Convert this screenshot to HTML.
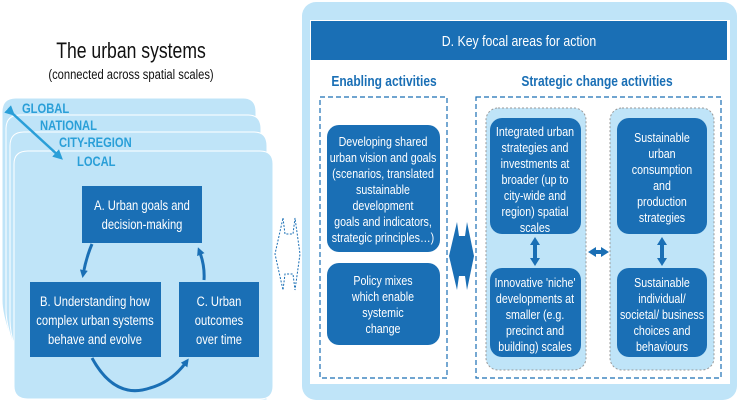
<!DOCTYPE html>
<html><head><meta charset="utf-8"><style>
html,body{margin:0;padding:0;background:#fff;width:738px;height:402px;overflow:hidden}
svg text{font-family:"Liberation Sans",sans-serif}
</style></head><body>
<svg width="738" height="402" viewBox="0 0 738 402" xmlns="http://www.w3.org/2000/svg">
<defs>
<marker id="ah" markerWidth="8" markerHeight="8" refX="5" refY="4" orient="auto" markerUnits="userSpaceOnUse"><path d="M0,0 L8,4 L0,8 Z" fill="#1a6fb5"/></marker>
<marker id="ah2" markerWidth="10" markerHeight="10" refX="6" refY="5" orient="auto" markerUnits="userSpaceOnUse"><path d="M0,0 L10,5 L0,10 Z" fill="#2a9fd8"/></marker>
</defs>
<!-- title -->
<g transform="translate(131 0) scale(0.8 1) translate(-131 0)" text-anchor="middle" fill="#111">
<text x="131" y="58" font-size="22">The urban systems</text>
<text x="131" y="79" font-size="14">(connected across spatial scales)</text>
</g>
<!-- stacked cards -->
<path d="M2,112 Q2,98 16,98 L243,98 Q256,98 256,112 L256,400 L40,400 Q2,330 2,300 Z" fill="#bfe4f8" stroke="#fff" stroke-width="1"/>
<path d="M6,129 Q6,115 20,115 L248,115 Q261,115 261,129 L261,400 L40,400 Q6,340 6,310 Z" fill="#bfe4f8" stroke="#fff" stroke-width="1"/>
<path d="M10,146 Q10,132 24,132 L254,132 Q267,132 267,146 L267,400 L40,400 Q10,350 10,320 Z" fill="#bfe4f8" stroke="#fff" stroke-width="1"/>
<path d="M14,164 Q14,151 28,151 L260,151 Q273,151 273,164 L273,386 Q273,399 260,399 L28,399 Q14,399 14,386 Z" fill="#bfe4f8" stroke="#fff" stroke-width="1"/>
<g font-size="14" font-weight="bold" fill="#2a9fd8">
<text x="22" y="113" transform="translate(22 0) scale(0.8 1) translate(-22 0)">GLOBAL</text>
<text x="40" y="130" transform="translate(40 0) scale(0.8 1) translate(-40 0)">NATIONAL</text>
<text x="59" y="147" transform="translate(59 0) scale(0.8 1) translate(-59 0)">CITY-REGION</text>
<text x="77" y="166" transform="translate(77 0) scale(0.8 1) translate(-77 0)">LOCAL</text>
</g>
<line x1="12" y1="113" x2="60" y2="157" stroke="#2a9fd8" stroke-width="2.5" marker-start="url(#ah2)" marker-end="url(#ah2)"/>
<!-- A B C -->
<rect x="82" y="186" width="120" height="57" fill="#1a6fb5"/>
<g font-size="14" fill="#fff" text-anchor="middle" transform="translate(142 0) scale(0.8 1) translate(-142 0)">
<text x="142" y="210">A. Urban goals and</text>
<text x="142" y="229">decision-making</text>
</g>
<rect x="30" y="282" width="131" height="75" fill="#1a6fb5"/>
<g font-size="14" fill="#fff" text-anchor="middle" transform="translate(95 0) scale(0.8 1) translate(-95 0)">
<text x="95" y="306">B. Understanding how</text>
<text x="95" y="325">complex urban systems</text>
<text x="95" y="344">behave and evolve</text>
</g>
<rect x="179" y="282" width="80" height="75" fill="#1a6fb5"/>
<g font-size="14" fill="#fff" text-anchor="middle" transform="translate(219 0) scale(0.8 1) translate(-219 0)">
<text x="219" y="306">C. Urban</text>
<text x="219" y="325">outcomes</text>
<text x="219" y="344">over time</text>
</g>
<path d="M92,244 Q86,258 83,275" fill="none" stroke="#1a6fb5" stroke-width="3" marker-end="url(#ah)"/>
<path d="M204,280 Q205,265 199,250" fill="none" stroke="#1a6fb5" stroke-width="3" marker-end="url(#ah)"/>
<path d="M92,358 Q115,400 150,388 Q172,382 187,361" fill="none" stroke="#1a6fb5" stroke-width="3" marker-end="url(#ah)"/>
<!-- hollow arrow -->
<polygon points="283,218 285,234 293,234 295,218 300,254 295,290 293,274 285,274 283,290 275,254" fill="#fff" stroke="#1a6fb5" stroke-width="1" stroke-dasharray="2,1.5"/>
<!-- right panel -->
<rect x="302" y="2" width="435" height="398" rx="14" fill="#bfe4f8"/>
<rect x="310" y="20" width="420" height="364" fill="#fff"/>
<rect x="311" y="21" width="416" height="39" fill="#1a6fb5"/>
<text x="519" y="46" font-size="15" fill="#fff" text-anchor="middle" transform="translate(519 0) scale(0.82 1) translate(-519 0)">D. Key focal areas for action</text>
<text x="384" y="86" font-size="15" font-weight="bold" fill="#1a6fb5" text-anchor="middle" transform="translate(384 0) scale(0.8 1) translate(-384 0)">Enabling activities</text>
<text x="597" y="86" font-size="15" font-weight="bold" fill="#1a6fb5" text-anchor="middle" transform="translate(597 0) scale(0.8 1) translate(-597 0)">Strategic change activities</text>
<rect x="320" y="97" width="127" height="281" fill="none" stroke="#1a6fb5" stroke-width="1.2" stroke-dasharray="5,3"/>
<rect x="476" y="97" width="245" height="281" fill="none" stroke="#1a6fb5" stroke-width="1.2" stroke-dasharray="5,3"/>
<rect x="486" y="108" width="100" height="262" rx="12" fill="#bfe4f8" stroke="#999" stroke-width="1" stroke-dasharray="2,2"/>
<rect x="610" y="108" width="104" height="262" rx="12" fill="#bfe4f8" stroke="#999" stroke-width="1" stroke-dasharray="2,2"/>
<rect x="327" y="125" width="113" height="127" rx="12" fill="#1a6fb5"/>
<g font-size="13" fill="#fff" text-anchor="middle" transform="translate(383 0) scale(0.82 1) translate(-383 0)">
<text x="383" y="146">Developing shared</text>
<text x="383" y="162">urban vision and goals</text>
<text x="383" y="178">(scenarios, translated</text>
<text x="383" y="194">sustainable</text>
<text x="383" y="210">development</text>
<text x="383" y="226">goals and indicators,</text>
<text x="383" y="242">strategic principles…)</text>
</g>
<rect x="327" y="263" width="113" height="82" rx="12" fill="#1a6fb5"/>
<g font-size="13" fill="#fff" text-anchor="middle" transform="translate(383 0) scale(0.82 1) translate(-383 0)">
<text x="383" y="285">Policy mixes</text>
<text x="383" y="301">which enable</text>
<text x="383" y="317">systemic</text>
<text x="383" y="333">change</text>
</g>
<rect x="490" y="118" width="91" height="116" rx="12" fill="#1a6fb5"/>
<g font-size="13" fill="#fff" text-anchor="middle" transform="translate(535 0) scale(0.82 1) translate(-535 0)">
<text x="535" y="136">Integrated urban</text>
<text x="535" y="152">strategies and</text>
<text x="535" y="168">investments at</text>
<text x="535" y="184">broader (up to</text>
<text x="535" y="200">city-wide and</text>
<text x="535" y="216">region) spatial</text>
<text x="535" y="232">scales</text>
</g>
<rect x="490" y="268" width="91" height="89" rx="12" fill="#1a6fb5"/>
<g font-size="13" fill="#fff" text-anchor="middle" transform="translate(535 0) scale(0.82 1) translate(-535 0)">
<text x="535" y="287">Innovative 'niche'</text>
<text x="535" y="303">developments at</text>
<text x="535" y="319">smaller (e.g.</text>
<text x="535" y="335">precinct and</text>
<text x="535" y="351">building) scales</text>
</g>
<rect x="617" y="118" width="90" height="116" rx="12" fill="#1a6fb5"/>
<g font-size="13" fill="#fff" text-anchor="middle" transform="translate(662 0) scale(0.82 1) translate(-662 0)">
<text x="662" y="142">Sustainable</text>
<text x="662" y="158">urban</text>
<text x="662" y="174">consumption</text>
<text x="662" y="190">and</text>
<text x="662" y="206">production</text>
<text x="662" y="222">strategies</text>
</g>
<rect x="617" y="268" width="90" height="89" rx="12" fill="#1a6fb5"/>
<g font-size="13" fill="#fff" text-anchor="middle" transform="translate(662 0) scale(0.82 1) translate(-662 0)">
<text x="662" y="287">Sustainable</text>
<text x="662" y="303">individual/</text>
<text x="662" y="319">societal/ business</text>
<text x="662" y="335">choices and</text>
<text x="662" y="351">behaviours</text>
</g>
<!-- big filled arrow -->
<polygon points="457,222 459,236 465,236 467,222 474,256 467,290 465,276 459,276 457,290 449,256" fill="#1a6fb5"/>
<!-- small arrows -->
<g fill="#1a6fb5">
<polygon points="535,237 540,245 537,245 537,258 540,258 535,266 530,258 533,258 533,245 530,245"/>
<polygon points="662,237 667,245 664,245 664,258 667,258 662,266 657,258 660,258 660,245 657,245"/>
<polygon points="588,252 596,247 596,250 601,250 601,247 609,252 601,257 601,254 596,254 596,257"/>
</g>
</svg>
</body></html>
